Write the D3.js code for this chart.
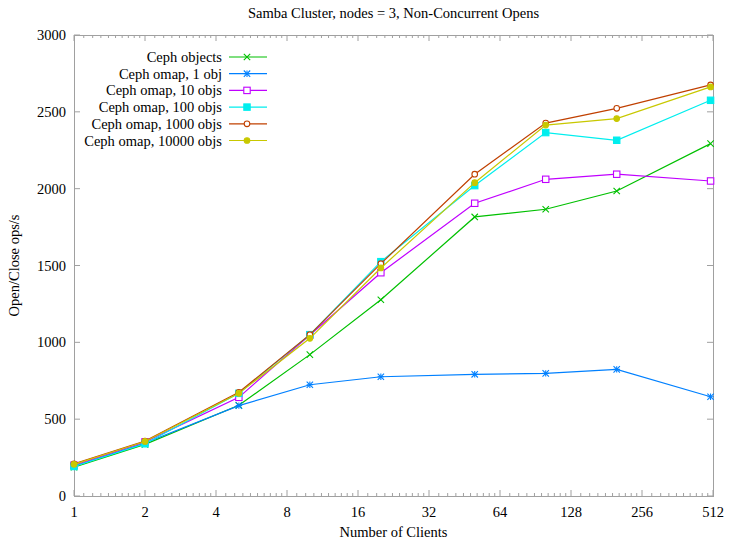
<!DOCTYPE html>
<html>
<head>
<meta charset="utf-8">
<script src="https://cdn.jsdelivr.net/npm/d3@7"></script>
<style>
  body { margin: 0; background: #fff; }
  text { font-family: "Liberation Serif", "Times New Roman", serif; font-size: 14.5px; fill: #000; }
</style>
</head>
<body>
<svg width="729" height="539"></svg>
<script>
const clients = [1, 2, 5, 10, 20, 50, 100, 200, 500];
const cephObjects = [187, 336, 590, 920, 1277, 1816, 1866, 1985, 2293];
const omap1 = [195, 345, 588, 724, 776, 792, 798, 824, 646];
const omap10 = [200, 352, 642, 1048, 1453, 1905, 2061, 2094, 2050];
const omap100 = [192, 340, 668, 1050, 1525, 2020, 2365, 2315, 2575];
const omap1000 = [210, 358, 675, 1050, 1512, 2094, 2427, 2523, 2675];
const omap10000 = [206, 355, 668, 1026, 1484, 2039, 2414, 2456, 2662];
const xTicks = [1, 2, 4, 8, 16, 32, 64, 128, 256, 512];
const yTicks = [0, 500, 1000, 1500, 2000, 2500, 3000];

const series = [
  { name: 'Ceph objects', values: cephObjects, color: '#00c000', point: 'cross' },
  { name: 'Ceph omap, 1 obj', values: omap1, color: '#0080ff', point: 'star' },
  { name: 'Ceph omap, 10 objs', values: omap10, color: '#c000ff', point: 'square' },
  { name: 'Ceph omap, 100 objs', values: omap100, color: '#00eeee', point: 'squareFilled' },
  { name: 'Ceph omap, 1000 objs', values: omap1000, color: '#c04000', point: 'circle' },
  { name: 'Ceph omap, 10000 objs', values: omap10000, color: '#c8c800', point: 'circleFilled' }
];

const svg = d3.select('svg');
const margin = { top: 35, bottom: 43, left: 74, right: 16 };
const width = +svg.attr('width');
const height = +svg.attr('height');
const x0 = margin.left, x1 = width - margin.right;
const y0 = height - margin.bottom, y1 = margin.top;

const xScale = d3.scaleLog().base(2).domain([1, 512]).range([x0, x1]);
const yScale = d3.scaleLinear().domain([0, 3000]).range([y0, y1]);

const gray = '#a0a0a0';

// minor ticks on log x axis (linear steps within each doubling)
const minorX = [];
xTicks.slice(0, -1).forEach(t => {
  for (let i = 1; i < 10; i++) minorX.push(t * (1 + i / 10));
});

const axisG = svg.append('g').attr('class', 'axes');
const drawTicks = (scale, vals, len, orient) => {
  vals.forEach(v => {
    const p = scale(v);
    if (orient === 'x') {
      axisG.append('line').attr('x1', p).attr('x2', p).attr('y1', y0).attr('y2', y0 - len).attr('stroke', gray);
      axisG.append('line').attr('x1', p).attr('x2', p).attr('y1', y1).attr('y2', y1 + len).attr('stroke', gray);
    } else {
      axisG.append('line').attr('y1', p).attr('y2', p).attr('x1', x0).attr('x2', x0 + len).attr('stroke', gray);
      axisG.append('line').attr('y1', p).attr('y2', p).attr('x1', x1).attr('x2', x1 - len).attr('stroke', gray);
    }
  });
};
drawTicks(xScale, minorX, 3, 'x');
drawTicks(xScale, xTicks, 6, 'x');
drawTicks(yScale, yTicks, 6, 'y');

axisG.append('rect')
  .attr('x', x0 + 0.5).attr('y', y1 + 0.5)
  .attr('width', x1 - x0).attr('height', y0 - y1)
  .attr('fill', 'none').attr('stroke', gray);

// tick labels
svg.append('g').selectAll('text').data(xTicks).enter().append('text')
  .attr('x', d => xScale(d)).attr('y', y0 + 21)
  .attr('text-anchor', 'middle').text(d => d);
svg.append('g').selectAll('text').data(yTicks).enter().append('text')
  .attr('x', x0 - 8).attr('y', d => yScale(d) + 5)
  .attr('text-anchor', 'end').text(d => d);

// titles
svg.append('text').attr('x', (x0 + x1) / 2).attr('y', 18)
  .attr('text-anchor', 'middle').text('Samba Cluster, nodes = 3, Non-Concurrent Opens');
svg.append('text').attr('x', (x0 + x1) / 2).attr('y', 537)
  .attr('text-anchor', 'middle').text('Number of Clients');
svg.append('text')
  .attr('transform', `translate(19, ${(y0 + y1) / 2}) rotate(-90)`)
  .attr('text-anchor', 'middle').text('Open/Close ops/s');

const drawPoint = (g, type, color, cx, cy) => {
  const s = 3.2;
  if (type === 'cross' || type === 'star') {
    g.append('path')
      .attr('d', `M${cx - s},${cy - s}L${cx + s},${cy + s}M${cx - s},${cy + s}L${cx + s},${cy - s}`)
      .attr('stroke', color).attr('stroke-width', 1.1);
    if (type === 'star') {
      g.append('path')
        .attr('d', `M${cx - s},${cy}L${cx + s},${cy}M${cx},${cy - s}L${cx},${cy + s}`)
        .attr('stroke', color).attr('stroke-width', 1.1);
    }
  } else if (type === 'square' || type === 'squareFilled') {
    g.append('rect').attr('x', cx - s).attr('y', cy - s).attr('width', 2 * s).attr('height', 2 * s)
      .attr('fill', type === 'squareFilled' ? color : '#fff').attr('stroke', color).attr('stroke-width', 1.1);
  } else {
    g.append('circle').attr('cx', cx).attr('cy', cy).attr('r', s - 0.4)
      .attr('fill', type === 'circleFilled' ? color : '#fff').attr('stroke', color).attr('stroke-width', 1.1);
  }
};

const line = d3.line().x(d => xScale(d[0])).y(d => yScale(d[1]));
const plotG = svg.append('g').attr('class', 'series');
series.forEach(s => {
  const pts = clients.map((c, i) => [c, s.values[i]]);
  const g = plotG.append('g');
  g.append('path').datum(pts)
    .attr('d', line).attr('fill', 'none')
    .attr('stroke', s.color).attr('stroke-width', 1.2);
  pts.forEach(p => drawPoint(g, s.point, s.color, xScale(p[0]), yScale(p[1])));
});

// legend
const legend = svg.append('g').attr('class', 'legend');
series.forEach((s, i) => {
  const ly = 57 + i * 16.7;
  legend.append('text').attr('x', 222).attr('y', ly + 5)
    .attr('text-anchor', 'end').text(s.name);
  legend.append('line').attr('x1', 229).attr('x2', 267).attr('y1', ly).attr('y2', ly)
    .attr('stroke', s.color).attr('stroke-width', 1.2);
  drawPoint(legend, s.point, s.color, 247, ly);
});
</script>
</body>
</html>
